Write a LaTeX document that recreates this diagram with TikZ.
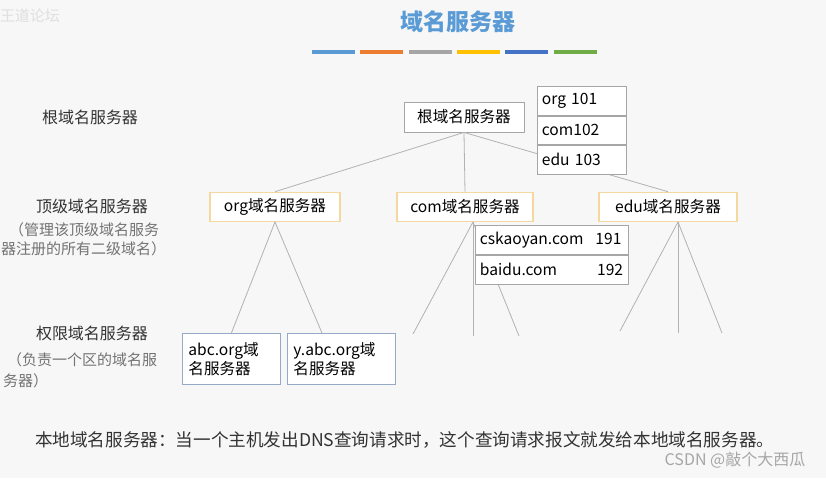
\documentclass[tikz,border=0pt]{standalone}
\usepackage{fontspec}
\setmainfont{Noto Sans CJK SC}
\usetikzlibrary{positioning}
\definecolor{titleblue}{RGB}{91,155,213}
\definecolor{tldline}{RGB}{245,215,160}
\definecolor{authline}{RGB}{150,170,200}
\tikzset{
  box/.style={draw=gray!70,fill=white,inner sep=0pt,font=\fontsize{7.8}{9.5}\selectfont},
  tld/.style={box,draw=tldline,thick},
  auth/.style={box,draw=authline,align=left,text width=#1,inner xsep=3pt},
  lbl/.style={font=\fontsize{8}{10}\selectfont,text=black!80},
  note/.style={font=\fontsize{7.5}{9.5}\selectfont,text=black!55},
  link/.style={gray!60,thin},
  bar/.style={line width=1.6pt}
}
\begin{document}
\begin{tikzpicture}[x=0.5pt,y=-0.5pt]
\useasboundingbox[fill=gray!6] (0,0) rectangle (826,478);

\node[text=gray!25,font=\fontsize{7.5}{9}\selectfont] (wm) at (30,16) {王道论坛};
\node[text=titleblue,font=\fontsize{11.5}{13}\selectfont\bfseries] (title) at (458,22) {域名服务器};

% colour bars
\foreach \c [count=\i] in {5B9BD5,ED7D31,A5A5A5,FFC000,4472C4,70AD47}
{
    \definecolor{bc}{HTML}{\c}
    \draw[bar,bc] (312+\i*48.3-48.3,52)--+(43,0);
}

% levels
\node[lbl] (lroot) at (90,117) {根域名服务器};
\node[lbl] (ltld) at (92,206) {顶级域名服务器};
\node[note,anchor=west] (ltld1) at (2,230) {（管理该顶级域名服务};
\node[note,anchor=west] (ltld2) at (-6,249) {器注册的所有二级域名）};
\node[lbl] (lauth) at (92,333) {权限域名服务器};
\node[note,anchor=west] (lauth1) at (0,360) {（负责一个区的域名服};
\node[note,anchor=west] (lauth2) at (-4,381) {务器）};

% root
\node[box,minimum width=60pt,minimum height=15pt] (root) at (464,117) {根域名服务器};

% top level
\node[tld,minimum width=65pt,minimum height=14.5pt] (org) at (275,207) {org域名服务器};
\node[tld,minimum width=68pt,minimum height=14.5pt] (com) at (465,207) {com域名服务器};
\node[tld,minimum width=69pt,minimum height=14.5pt] (edu) at (668,207) {edu域名服务器};
\draw[link] (root.south)--(org.north);
\draw[link] (root.south)--(com.north);
\draw[link] (root.south)--(edu.north);

\node[box,minimum width=44.5pt,minimum height=14.5pt,anchor=north west,text width=40pt] (t1) at (537,86) {org 101};
\node[box,minimum width=44.5pt,minimum height=14pt,anchor=north,text width=40pt] (t2) at (t1.south) {com102};
\node[box,minimum width=44.5pt,minimum height=14.5pt,anchor=north,text width=40pt] (t3) at (t2.south) {edu 103};

% authoritative
\node[auth=43pt,minimum height=25.5pt,anchor=north west] (abc) at (182,333) {abc.org域\\名服务器};
\node[auth=48pt,minimum height=25.5pt,anchor=north west] (yabc) at (287,333) {y.abc.org域\\名服务器};
\coordinate (oa) at (275,222);
\draw[link] (oa)--(abc.north);
\draw[link] (oa)--(yabc.north -| 322,0);

\coordinate (ca) at (473,222);
\coordinate (ce1) at (413,334);
\coordinate (ce2) at (473,336);
\coordinate (ce3) at (519,336);
\foreach \e in {ce1,ce2,ce3}
    \draw[link] (ca)--(\e);

% com table
\node[box,minimum width=76.5pt,minimum height=14.5pt,anchor=north west,text width=72pt] (c1) at (475,225) {cskaoyan.com\hspace{6pt}191};
\node[box,minimum width=76.5pt,minimum height=14.5pt,anchor=north,text width=72pt] (c2) at (c1.south) {baidu.com\hspace{20pt}192};

\coordinate (ea) at (678,222);
\coordinate (ee1) at (620,331);
\coordinate (ee2) at (678,333);
\coordinate (ee3) at (722,333);
\foreach \e in {ee1,ee2,ee3}
    \draw[link] (ea)--(\e);

\node[lbl,font=\fontsize{8.8}{10}\selectfont,anchor=west] (local) at (28,440) {本地域名服务器：当一个主机发出DNS查询请求时，这个查询请求报文就发给本地域名服务器。};
\node[text=gray!70,font=\fontsize{8}{10}\selectfont] (csdn) at (735,460) {CSDN @敲个大西瓜};
\end{tikzpicture}
\end{document}
